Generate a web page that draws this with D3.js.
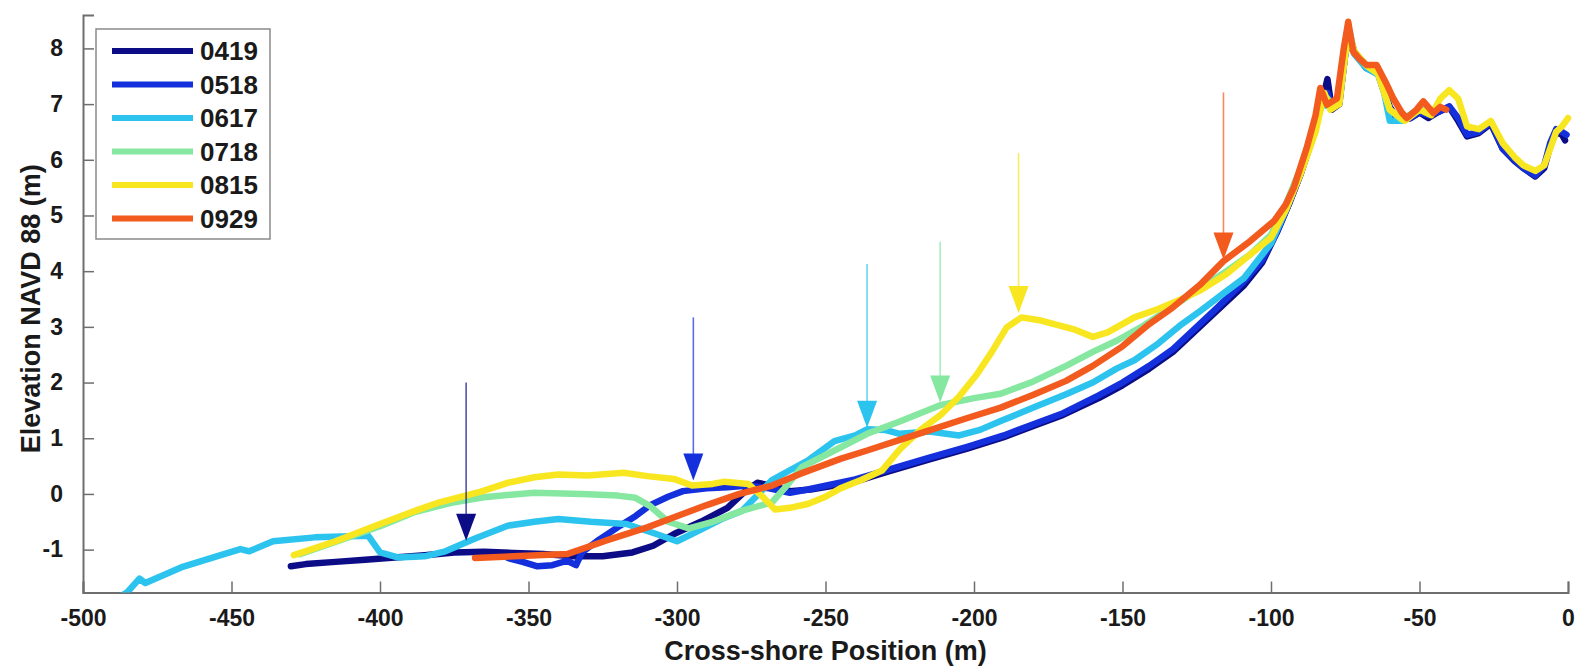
<!DOCTYPE html>
<html>
<head>
<meta charset="utf-8">
<script src="https://cdn.jsdelivr.net/npm/d3@7"></script>
<style>
  html, body { margin: 0; padding: 0; background: #fff; }
  svg text { font-family: Arial, "Liberation Sans", sans-serif; font-weight: bold; fill: #1a1a1a; }
</style>
</head>
<body>
<svg id="chart" width="1585" height="670"></svg>
<script>
// Survey dates (legend labels)
const surveys = ["0419", "0518", "0617", "0718", "0815", "0929"];
const surveyColors = ["#0c0c86", "#1430dc", "#2cc4ee", "#86e8a0", "#f8e620", "#f25a1e"];

// Beach profiles: [cross-shore position (m), elevation NAVD88 (m)]
const p0419 = [[-430,-1.3],[-425,-1.26],[-415,-1.22],[-405,-1.18],[-395,-1.14],[-385,-1.1],[-375,-1.05],[-365,-1.04],[-355,-1.06],[-345,-1.08],[-335,-1.12],[-325,-1.12],[-315,-1.05],[-308,-0.93],[-301,-0.72],[-292,-0.5],[-283,-0.25],[-277,0.05],[-273,0.2],[-268,0.15],[-262,0.05],[-255,0.08],[-248,0.14],[-240,0.22],[-229,0.4],[-215,0.62],[-202,0.82],[-190,1.02],[-180,1.22],[-170,1.42],[-158,1.72],[-150,1.95],[-141,2.25],[-133,2.55],[-125,2.95],[-118,3.3],[-109,3.75],[-103,4.15],[-98,4.7],[-94,5.2],[-90,5.75],[-86,6.4],[-83,7.0],[-81,7.45],[-79.5,6.9],[-77,7.0],[-75,7.9],[-73.5,8.2],[-72,7.95],[-68,7.65],[-64,7.55],[-60,6.95],[-57,6.7],[-53,6.75],[-50,6.85],[-47,6.75],[-44,6.85],[-40,6.95],[-37,6.7],[-34,6.42],[-30,6.48],[-26,6.65],[-22,6.2],[-18,5.98],[-15,5.85],[-11,5.7],[-8,5.85],[-6,6.25],[-4,6.5],[-2,6.45],[-1,6.35]];
const p0518 = [[-357,-1.15],[-352,-1.22],[-347,-1.3],[-342,-1.28],[-337,-1.2],[-334,-1.28],[-332,-1.05],[-327,-0.85],[-320,-0.6],[-314,-0.4],[-309,-0.2],[-303,-0.05],[-298,0.05],[-290,0.1],[-283,0.12],[-276,0.15],[-269,0.1],[-262,0.02],[-256,0.08],[-248,0.17],[-240,0.26],[-229,0.43],[-215,0.65],[-202,0.85],[-190,1.05],[-180,1.25],[-170,1.45],[-158,1.77],[-150,2.0],[-141,2.3],[-133,2.6],[-125,3.0],[-118,3.35],[-109,3.82],[-103,4.2],[-98,4.7],[-94,5.2],[-90,5.75],[-86,6.4],[-83,7.0],[-81,7.2],[-79.5,6.95],[-77,7.05],[-75,7.9],[-73.5,8.2],[-72,7.95],[-68,7.65],[-64,7.55],[-60,6.9],[-57,6.7],[-53,6.75],[-50,6.85],[-47,6.8],[-44,6.85],[-40,6.96],[-37,6.75],[-34,6.45],[-30,6.5],[-26,6.68],[-22,6.2],[-18,6.0],[-15,5.85],[-11,5.72],[-8,5.9],[-6,6.3],[-4,6.55],[-2,6.5],[-0.5,6.45]];
const p0617 = [[-489,-1.9],[-485,-1.76],[-481,-1.52],[-479,-1.6],[-467,-1.32],[-455,-1.12],[-447,-0.99],[-444,-1.03],[-436,-0.85],[-422,-0.78],[-410,-0.76],[-404,-0.75],[-400,-1.05],[-394,-1.14],[-385,-1.12],[-378,-1.03],[-368,-0.8],[-357,-0.57],[-348,-0.5],[-340,-0.45],[-329,-0.5],[-317,-0.54],[-307,-0.72],[-300,-0.85],[-295,-0.72],[-285,-0.45],[-278,-0.3],[-268,0.25],[-256,0.6],[-247,0.95],[-240,1.05],[-236,1.16],[-230,1.15],[-225,1.08],[-215,1.12],[-205,1.05],[-198,1.15],[-191,1.31],[-180,1.55],[-169,1.79],[-160,2.0],[-152,2.25],[-146,2.4],[-138,2.7],[-130,3.05],[-124,3.28],[-116,3.6],[-109,3.88],[-100,4.5],[-95,5.1],[-90,5.8],[-86,6.4],[-83,7.0],[-80,6.95],[-77,7.1],[-75,7.95],[-73.5,8.3],[-72,7.9],[-68,7.65],[-63,7.5],[-60,6.7],[-56,6.7],[-52,6.85]];
const p0718 = [[-427,-1.08],[-415,-0.86],[-400,-0.58],[-388,-0.32],[-376,-0.16],[-365,-0.06],[-355,-0.01],[-348,0.02],[-332,0.0],[-320,-0.03],[-314,-0.07],[-309,-0.22],[-303,-0.5],[-296,-0.62],[-288,-0.5],[-278,-0.3],[-268,-0.15],[-263,0.15],[-258,0.48],[-247,0.78],[-236,1.08],[-225,1.3],[-211,1.6],[-200,1.72],[-191,1.8],[-180,2.02],[-169,2.3],[-160,2.55],[-152,2.75],[-143,3.02],[-135,3.3],[-125,3.65],[-115,4.0],[-107,4.3],[-100,4.65],[-95,5.2],[-90,5.85],[-86,6.45],[-83,7.0],[-81,7.1],[-79,6.95],[-77,7.05],[-75,7.9],[-73.5,8.25],[-72,7.95],[-68,7.7],[-64,7.55],[-60,6.9],[-56,6.72],[-52,6.85],[-49,6.9]];
const p0815 = [[-429,-1.1],[-415,-0.85],[-400,-0.54],[-388,-0.3],[-380,-0.15],[-366,0.04],[-357,0.2],[-348,0.3],[-340,0.35],[-330,0.33],[-318,0.38],[-310,0.32],[-301,0.27],[-295,0.15],[-288,0.18],[-284,0.22],[-276,0.18],[-271,-0.06],[-267,-0.28],[-262,-0.25],[-256,-0.18],[-250,-0.05],[-245,0.1],[-238,0.25],[-231,0.42],[-225,0.8],[-218,1.15],[-211,1.43],[-205,1.75],[-199,2.15],[-194,2.55],[-189,2.99],[-184,3.17],[-178,3.12],[-173,3.05],[-166,2.95],[-160,2.82],[-155,2.9],[-146,3.17],[-138,3.32],[-130,3.5],[-124,3.65],[-115,3.95],[-107,4.3],[-100,4.6],[-95,5.1],[-90,5.75],[-85,6.5],[-82,7.2],[-80,6.9],[-77,7.0],[-75,7.9],[-73.5,8.25],[-72,7.95],[-68,7.7],[-64,7.55],[-60,6.9],[-55,6.7],[-50,6.9],[-46,6.8],[-43,7.1],[-40,7.25],[-37,7.1],[-34,6.6],[-30,6.55],[-26,6.7],[-22,6.3],[-18,6.05],[-15,5.9],[-11,5.8],[-8,5.9],[-6,6.2],[-4,6.5],[-2,6.6],[0,6.75]];
const p0929 = [[-368,-1.15],[-355,-1.12],[-337,-1.08],[-324,-0.84],[-310,-0.6],[-301,-0.42],[-290,-0.2],[-279,0.0],[-268,0.15],[-258.6,0.36],[-245,0.63],[-236,0.78],[-225,0.97],[-214,1.16],[-203,1.35],[-191,1.55],[-180,1.78],[-169,2.03],[-160,2.3],[-150,2.65],[-141,3.05],[-133,3.35],[-124,3.75],[-116,4.18],[-107,4.54],[-99,4.9],[-95,5.2],[-92.4,5.49],[-88,6.21],[-85,6.8],[-83.4,7.29],[-81.2,6.99],[-77.8,7.1],[-75.5,8.0],[-74,8.48],[-72.3,7.94],[-70,7.8],[-67.8,7.7],[-64.4,7.7],[-61,7.35],[-58.8,7.1],[-56,6.85],[-54.3,6.75],[-51,6.9],[-48.7,7.05],[-45.3,6.84],[-43,6.95],[-41,6.9]];
const profiles = [p0419, p0518, p0617, p0718, p0815, p0929];

// Shoreline markers per survey: position, shaft top, arrow tip (m)
const markerX = [-371, -294.5, -236, -211.4, -185, -116];
const markerTop = [2.0, 3.17, 4.13, 4.53, 6.12, 7.21];
const markerTip = [-0.84, 0.24, 1.19, 1.64, 3.25, 4.21];

// Axis ticks
const xTicks = [-500, -450, -400, -350, -300, -250, -200, -150, -100, -50, 0];
const yTicks = [-1, 0, 1, 2, 3, 4, 5, 6, 7, 8];

const svg = d3.select("#chart");
const plot = { left: 83, right: 1568, top: 15, bottom: 592.5 };

const x = d3.scaleLinear().domain([-500, 0]).range([plot.left, plot.right]);
const y = d3.scaleLinear().domain([-1.77, 8.6]).range([plot.bottom, plot.top]);

svg.append("defs").append("clipPath").attr("id", "plotClip")
  .append("rect")
  .attr("x", plot.left).attr("y", plot.top)
  .attr("width", plot.right - plot.left + 4).attr("height", plot.bottom - plot.top);

const axisColor = "#6e6e6e";
const plainNumber = d => String(d);

// X axis
const gx = svg.append("g").attr("transform", `translate(0,${plot.bottom})`)
  .call(d3.axisBottom(x).tickValues(xTicks).tickSize(-11).tickPadding(17).tickFormat(plainNumber));
gx.select(".domain").attr("stroke", axisColor).attr("stroke-width", 2);
gx.selectAll(".tick line").attr("stroke", axisColor).attr("stroke-width", 1.5);
gx.selectAll(".tick text").style("font-size", "23px").attr("fill", "#1a1a1a");

// Y axis
const gy = svg.append("g").attr("transform", `translate(${plot.left},0)`)
  .call(d3.axisLeft(y).tickValues(yTicks).tickSize(-11).tickPadding(20).tickFormat(plainNumber));
gy.select(".domain").attr("stroke", axisColor).attr("stroke-width", 2);
gy.selectAll(".tick line").attr("stroke", axisColor).attr("stroke-width", 1.5);
gy.selectAll(".tick text").style("font-size", "23px").attr("fill", "#1a1a1a");

// Axis titles
svg.append("text")
  .attr("x", (plot.left + plot.right) / 2).attr("y", 660)
  .attr("text-anchor", "middle").style("font-size", "27px")
  .text("Cross-shore Position (m)");
svg.append("text")
  .attr("transform", `translate(40,${(plot.top + plot.bottom) / 2 + 5}) rotate(-90)`)
  .attr("text-anchor", "middle").style("font-size", "27px")
  .text("Elevation NAVD 88 (m)");

// Profiles
const line = d3.line().x(d => x(d[0])).y(d => y(d[1]));
svg.append("g").attr("clip-path", "url(#plotClip)")
  .selectAll("path").data(profiles).join("path")
  .attr("d", line)
  .attr("fill", "none")
  .attr("stroke", (d, i) => surveyColors[i])
  .attr("stroke-width", 6.5)
  .attr("stroke-linejoin", "round")
  .attr("stroke-linecap", "round");

// Shoreline arrows
const headW = 20, headH = 27;
const markers = svg.append("g");
markerX.forEach((mx, i) => {
  const px = x(mx), tipY = y(markerTip[i]);
  markers.append("line")
    .attr("x1", px).attr("x2", px)
    .attr("y1", y(markerTop[i])).attr("y2", tipY - headH + 2)
    .attr("stroke", surveyColors[i]).attr("stroke-width", 1.6).attr("opacity", 0.7);
  markers.append("path")
    .attr("d", `M${px - headW / 2},${tipY - headH} L${px + headW / 2},${tipY - headH} L${px},${tipY} Z`)
    .attr("fill", surveyColors[i]);
});

// Legend
const legend = svg.append("g");
legend.append("rect")
  .attr("x", 96).attr("y", 29).attr("width", 174).attr("height", 210)
  .attr("fill", "#fff").attr("stroke", "#8a8a8a").attr("stroke-width", 1.5);
surveys.forEach((s, i) => {
  const ly = 51 + i * 33.5;
  legend.append("line")
    .attr("x1", 112).attr("x2", 193).attr("y1", ly).attr("y2", ly)
    .attr("stroke", surveyColors[i]).attr("stroke-width", 6);
  legend.append("text")
    .attr("x", 200).attr("y", ly).attr("dy", "0.36em")
    .style("font-size", "26px").text(s);
});
</script>
</body>
</html>
